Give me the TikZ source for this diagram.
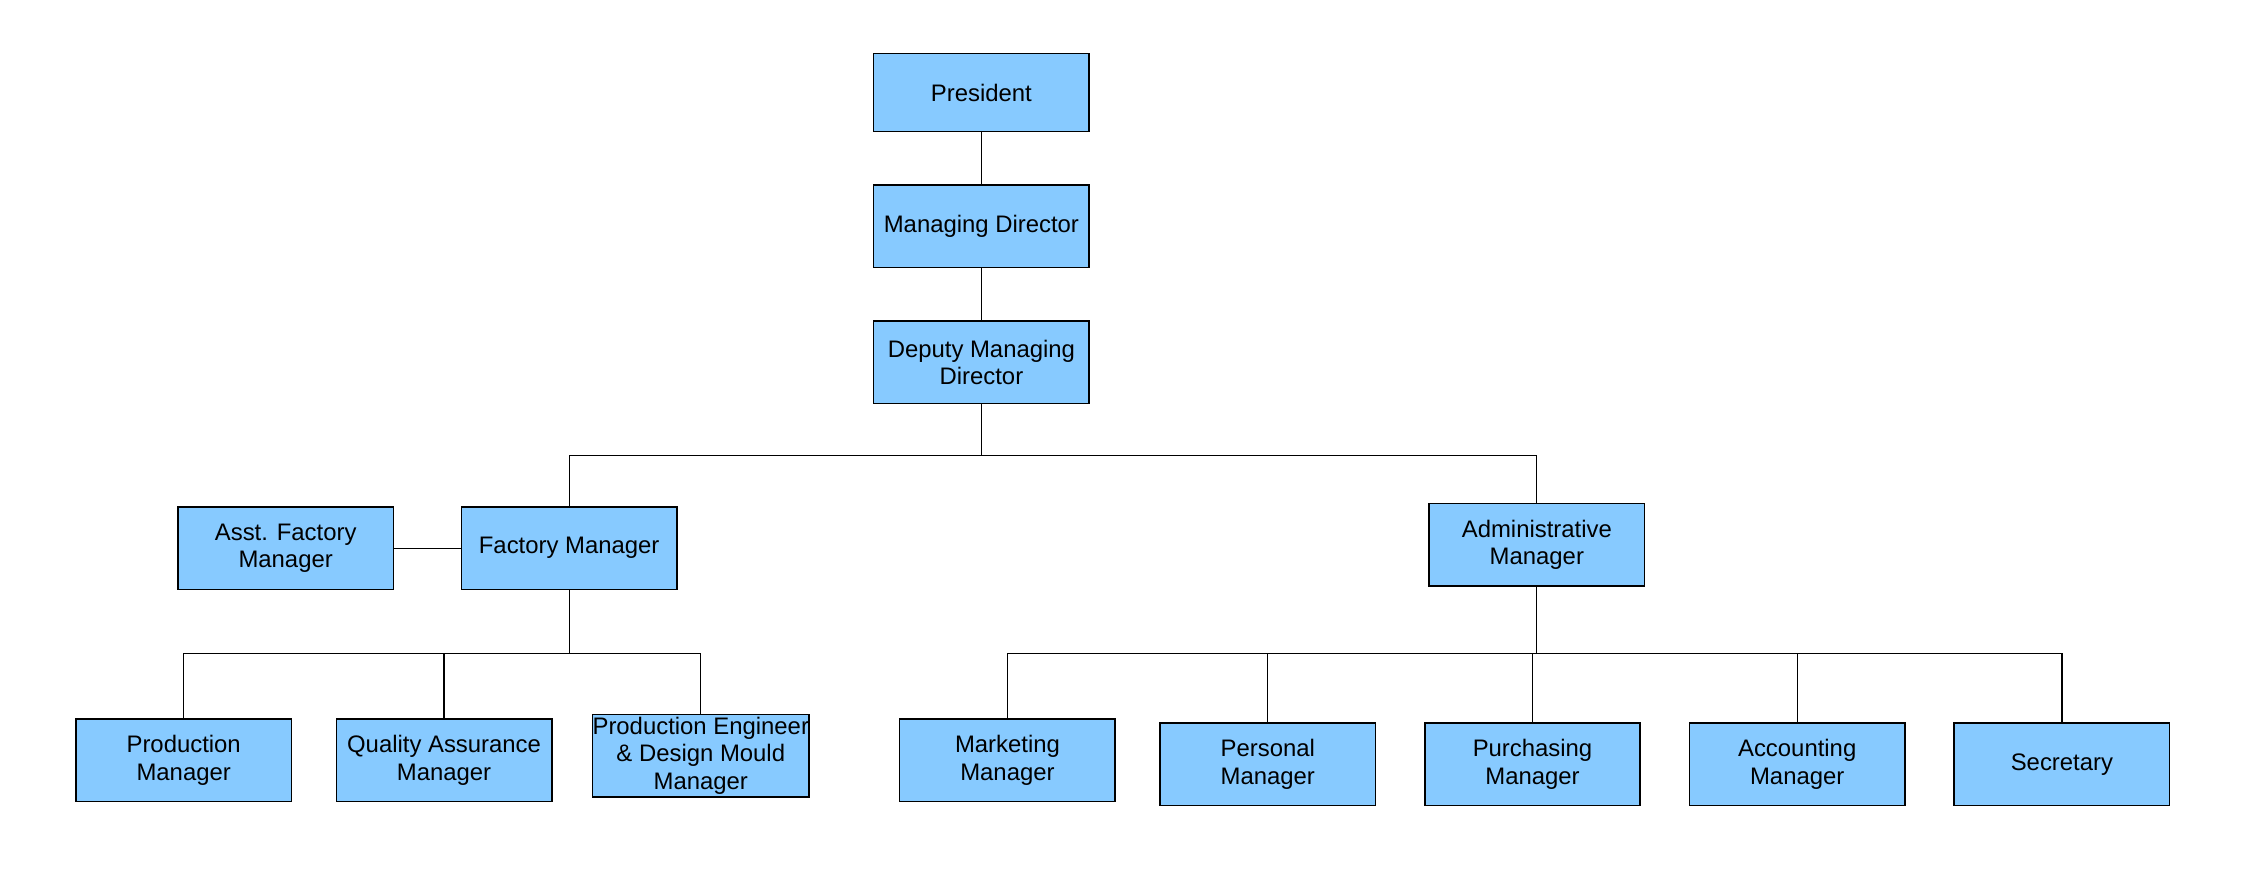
\documentclass[tikz,border=0pt]{standalone}
\usepackage{fontspec}
\setmainfont{Liberation Sans}
\usepackage{tikz}
\definecolor{boxblue}{RGB}{135,202,255}
\tikzset{post/.style={draw,fill=boxblue,line width=0.6pt,minimum width=2.98cm,
  minimum height=1.14cm,inner sep=1pt,align=center,anchor=center,
  font=\fontsize{9.4}{10.8}\selectfont}}
\tikzset{link/.style={line width=0.5pt}}

\begin{document}
\begin{tikzpicture}[x=0.02cm,y=-0.02cm]
      \useasboundingbox (0,0) rectangle (1568,601);

      \node [post,minimum height=1.08cm] (pres) at (678.5,64) {President};
      \node [post] (md) at (678.5,156.5) {Managing Director};
      \node [post] (dmd) at (678.5,250.5) {Deputy Managing\\Director};

      \node [post] (fm) at (393.5,379) {Factory Manager};
      \node [post] (afm) at (197.5,379) {Asst. Factory\\Manager};
      \node [post] (am) at (1062.5,376.5) {Administrative\\Manager};

      \node [post] (pm) at (127,525.5) {Production\\Manager};
      \node [post] (qam) at (307,525.5) {Quality Assurance\\Manager};
      \node [post,inner xsep=0pt,inner ysep=0pt]
        (pem) at (484.5,522.5) {Production Engineer\\\& Design Mould\\Manager};

      \node [post] (mkt) at (696.5,525.5) {Marketing\\Manager};
      \node [post] (pers) at (876.5,528.5) {Personal\\Manager};
      \node [post] (purch) at (1059.5,528.5) {Purchasing\\Manager};
      \node [post] (acct) at (1242.5,528.5) {Accounting\\Manager};
      \node [post] (sec) at (1425.5,528.5) {Secretary};

      \coordinate (topbus) at (678.5,315);
      \coordinate (fbus) at (393.5,452);
      \coordinate (abus) at (1062.5,452);

      \draw [link] (pres) -- (md);
      \draw [link] (md) -- (dmd);
      \draw [link] (dmd) -- (topbus) -| (fm);
      \draw [link] (topbus) -| (am);
      \draw [link] (afm) -- (fm);

      \draw [link] (fm) -- (fbus);
      \foreach \n in {pm,qam,pem}
        \draw [link] (fbus) -| (\n);

      \draw [link] (am) -- (abus);
      \foreach \n in {mkt,pers,purch,acct,sec}
        \draw [link] (abus) -| (\n);
\end{tikzpicture}
\end{document}
